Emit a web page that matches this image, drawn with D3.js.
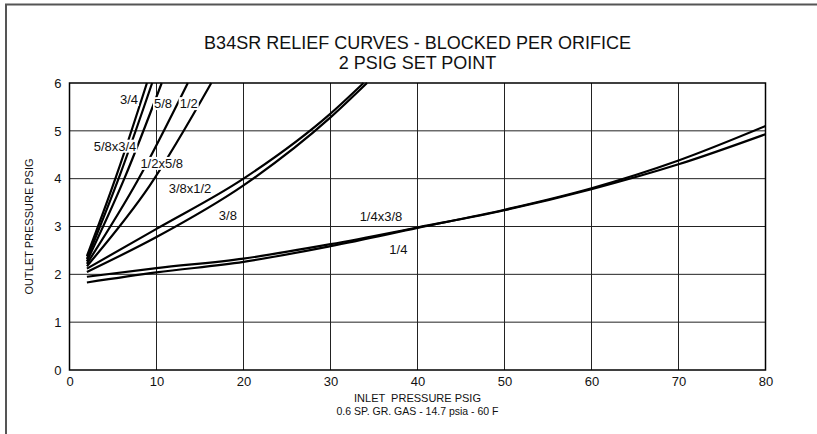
<!DOCTYPE html>
<html>
  <head>
    <meta charset="utf-8">
    <title>B34SR relief curves</title>
    <script src="https://cdn.jsdelivr.net/npm/d3@7"></script>
  </head>
  <style>
    body { margin: 0; background: #fff; }
    text { font-family: "Liberation Sans", Arial, sans-serif; fill: #111; }
    .grid-line { stroke: #222; stroke-width: 1px; }
    .curve { fill: none; stroke: #000; stroke-width: 2.2px; }
  </style>
  <body>
    <script>
      const width = 817;
      const height = 434;

      // inlet / outlet pressure, psig
      const curve34 = [[2, 2.38], [5.5, 4.12], [8.9, 6]];
      const curve58x34 = [[2, 2.32], [5.8, 4.08], [9.5, 6]];
      const curve58 = [[2, 2.27], [6.3, 4.0], [10.6, 6]];
      const curve12x58 = [[2, 2.22], [7.8, 3.95], [13.6, 6]];
      const curve12 = [[2, 2.17], [9.2, 3.85], [16.3, 6]];
      const curve38x12 = [[2, 2.12], [10, 2.95], [20, 4.0], [30, 5.36], [33.8, 6]];
      const curve38 = [[2, 2.05], [10, 2.78], [20, 3.86], [30, 5.28], [34.2, 6]];
      const curve14x38 = [[2, 1.83], [10, 2.04], [20, 2.26], [30, 2.59], [40, 2.97], [50, 3.35], [60, 3.8], [70, 4.38], [80, 5.1]];
      const curve14 = [[2, 1.95], [10, 2.13], [20, 2.33], [30, 2.63], [40, 2.98], [50, 3.34], [60, 3.78], [70, 4.3], [80, 4.93]];

      const curves = [curve34, curve58x34, curve58, curve12x58, curve12, curve38x12, curve38, curve14x38, curve14];

      // curve names and where they sit (inlet, outlet)
      const labelNames = ["3/4", "5/8", "1/2", "5/8x3/4", "1/2x5/8", "3/8x1/2", "3/8", "1/4x3/8", "1/4"];
      const labelAt = [[6.84, 5.66], [10.75, 5.57], [13.7, 5.57], [5.23, 4.68], [10.6, 4.32], [13.85, 3.8], [18.2, 3.24], [35.8, 3.21], [37.8, 2.53]];

      const xTicks = [0, 10, 20, 30, 40, 50, 60, 70, 80];
      const yTicks = [0, 1, 2, 3, 4, 5, 6];

      const xScale = d3.scaleLinear().domain([0, 80]).range([69.5, 765.5]);
      const yScale = d3.scaleLinear().domain([0, 6]).range([370, 83]);

      const svg = d3.select("body")
        .append("svg")
          .attr("width", width)
          .attr("height", height);

      // page border (top and left only)
      svg.append("path")
          .attr("d", "M6,434 V4.5 H817")
          .attr("fill", "none")
          .attr("stroke", "#555")
          .attr("stroke-width", 2);

      svg.append("text")
          .attr("x", xScale(40))
          .attr("y", 49)
          .attr("text-anchor", "middle")
          .style("font-size", "18px")
          .text("B34SR RELIEF CURVES - BLOCKED PER ORIFICE");

      svg.append("text")
          .attr("x", xScale(40))
          .attr("y", 69)
          .attr("text-anchor", "middle")
          .style("font-size", "18px")
          .text("2 PSIG SET POINT");

      // grid
      const grid = svg.append("g");
      grid.selectAll("line.v")
        .data(xTicks.slice(1, -1))
        .enter()
        .append("line")
          .classed("grid-line", true)
          .attr("x1", d => xScale(d)).attr("x2", d => xScale(d))
          .attr("y1", yScale(0)).attr("y2", yScale(6));
      grid.selectAll("line.h")
        .data(yTicks.slice(1, -1))
        .enter()
        .append("line")
          .classed("grid-line", true)
          .attr("x1", xScale(0)).attr("x2", xScale(80))
          .attr("y1", d => yScale(d)).attr("y2", d => yScale(d));

      svg.append("rect")
          .attr("x", xScale(0))
          .attr("y", yScale(6))
          .attr("width", xScale(80) - xScale(0))
          .attr("height", yScale(0) - yScale(6))
          .attr("fill", "none")
          .attr("stroke", "#000")
          .attr("stroke-width", 1.5);

      // axes
      const xAxis = d3.axisBottom(xScale).tickValues(xTicks).tickFormat(d3.format("d")).tickSize(0).tickPadding(7);
      const gx = svg.append("g")
          .attr("transform", "translate(0," + yScale(0) + ")")
          .call(xAxis);
      gx.select(".domain").remove();
      gx.selectAll("text").style("font-size", "13px").attr("font-family", null).attr("fill", null);

      const yAxis = d3.axisLeft(yScale).tickValues(yTicks).tickFormat(d3.format("d")).tickSize(0).tickPadding(8);
      const gy = svg.append("g")
          .attr("transform", "translate(" + xScale(0) + ",0)")
          .call(yAxis);
      gy.select(".domain").remove();
      gy.selectAll("text").style("font-size", "13px").attr("font-family", null).attr("fill", null);

      svg.append("text")
          .attr("transform", "translate(33," + yScale(3) + ") rotate(-90)")
          .attr("text-anchor", "middle")
          .style("font-size", "11px")
          .text("OUTLET PRESSURE PSIG");

      svg.append("text")
          .attr("x", xScale(40))
          .attr("y", 402)
          .attr("text-anchor", "middle")
          .style("font-size", "11px")
          .style("white-space", "pre")
          .text("INLET  PRESSURE PSIG");

      svg.append("text")
          .attr("x", xScale(40))
          .attr("y", 415)
          .attr("text-anchor", "middle")
          .style("font-size", "10.5px")
          .text("0.6 SP. GR. GAS - 14.7 psia - 60 F");

      // relief curves
      const line = d3.line()
        .x(d => xScale(d[0]))
        .y(d => yScale(d[1]))
        .curve(d3.curveMonotoneX);

      svg.append("g")
        .selectAll("path")
        .data(curves)
        .enter()
        .append("path")
          .classed("curve", true)
          .attr("d", line);

      // curve labels with white backing
      const labels = svg.append("g")
        .selectAll("g")
        .data(labelNames)
        .enter()
        .append("g")
          .attr("transform", (d, i) => "translate(" + xScale(labelAt[i][0]) + "," + yScale(labelAt[i][1]) + ")");

      labels.append("text")
          .attr("text-anchor", "middle")
          .attr("dy", "0.35em")
          .style("font-size", "13px")
          .text(d => d);

      labels.each(function() {
        const g = d3.select(this);
        const box = g.select("text").node().getBBox();
        g.insert("rect", "text")
          .attr("x", box.x - 1)
          .attr("y", box.y + 1)
          .attr("width", box.width + 2)
          .attr("height", box.height - 2)
          .attr("fill", "#fff");
      });
    </script>
  </body>
</html>
